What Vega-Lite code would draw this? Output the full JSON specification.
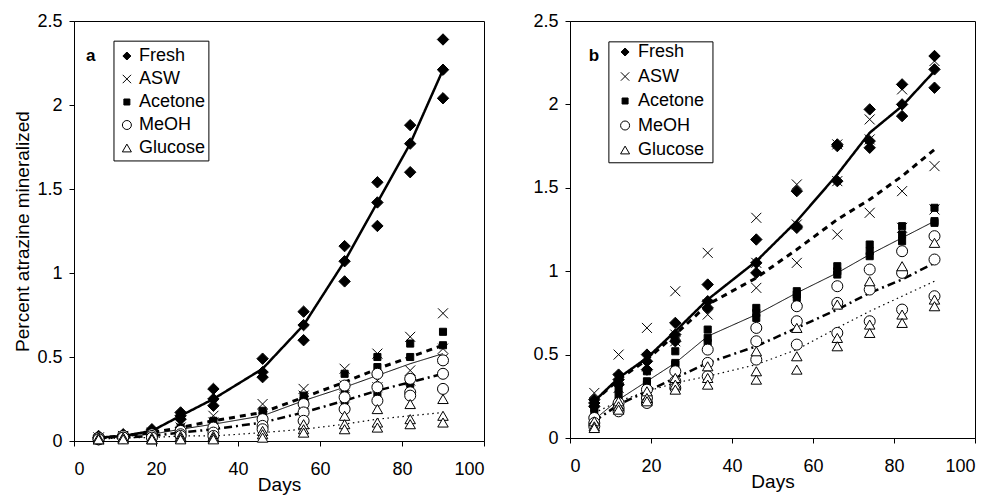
{
"$schema": "https://vega.github.io/schema/vega-lite/v6.json",
"background": "white",
"autosize": {"type": "pad"},
"padding": {"left": 13, "top": 11, "right": 2, "bottom": 2},
"spacing": 47,
"config": {
  "font": "Liberation Sans",
  "view": {"stroke": "black", "strokeWidth": 1},
  "axis": {"grid": false, "labelFontSize": 18, "labelColor": "black", "titleFontSize": 19, "titleFontWeight": "normal", "titleColor": "black", "tickColor": "black", "domainColor": "black", "tickSize": 5, "labelFont": "Liberation Sans", "titleFont": "Liberation Sans"},
  "axisX": {"labelPadding": 14, "titlePadding": -3},
  "axisY": {"labelPadding": 7, "titlePadding": 4}
},
"datasets": {
"leg": [{"trt":"Fresh"},{"trt":"ASW"},{"trt":"Acetone"},{"trt":"MeOH"},{"trt":"Glucose"}],
"pts": [
{"panel":"a","trt":"Fresh","day":6,"pct":0.03},{"panel":"a","trt":"Fresh","day":6,"pct":0.02},{"panel":"a","trt":"Fresh","day":6,"pct":0.02},
{"panel":"a","trt":"Fresh","day":12,"pct":0.04},{"panel":"a","trt":"Fresh","day":12,"pct":0.03},{"panel":"a","trt":"Fresh","day":12,"pct":0.03},
{"panel":"a","trt":"Fresh","day":19,"pct":0.07},{"panel":"a","trt":"Fresh","day":19,"pct":0.06},{"panel":"a","trt":"Fresh","day":19,"pct":0.05},
{"panel":"a","trt":"Fresh","day":26,"pct":0.17},{"panel":"a","trt":"Fresh","day":26,"pct":0.15},{"panel":"a","trt":"Fresh","day":26,"pct":0.13},
{"panel":"a","trt":"Fresh","day":34,"pct":0.31},{"panel":"a","trt":"Fresh","day":34,"pct":0.25},{"panel":"a","trt":"Fresh","day":34,"pct":0.21},
{"panel":"a","trt":"Fresh","day":46,"pct":0.49},{"panel":"a","trt":"Fresh","day":46,"pct":0.41},{"panel":"a","trt":"Fresh","day":46,"pct":0.38},
{"panel":"a","trt":"Fresh","day":56,"pct":0.77},{"panel":"a","trt":"Fresh","day":56,"pct":0.69},{"panel":"a","trt":"Fresh","day":56,"pct":0.60},
{"panel":"a","trt":"Fresh","day":66,"pct":1.16},{"panel":"a","trt":"Fresh","day":66,"pct":1.07},{"panel":"a","trt":"Fresh","day":66,"pct":0.95},
{"panel":"a","trt":"Fresh","day":74,"pct":1.54},{"panel":"a","trt":"Fresh","day":74,"pct":1.42},{"panel":"a","trt":"Fresh","day":74,"pct":1.28},
{"panel":"a","trt":"Fresh","day":82,"pct":1.88},{"panel":"a","trt":"Fresh","day":82,"pct":1.77},{"panel":"a","trt":"Fresh","day":82,"pct":1.60},
{"panel":"a","trt":"Fresh","day":90,"pct":2.39},{"panel":"a","trt":"Fresh","day":90,"pct":2.21},{"panel":"a","trt":"Fresh","day":90,"pct":2.04},
{"panel":"a","trt":"ASW","day":6,"pct":0.02},{"panel":"a","trt":"ASW","day":6,"pct":0.02},{"panel":"a","trt":"ASW","day":6,"pct":0.01},
{"panel":"a","trt":"ASW","day":12,"pct":0.03},{"panel":"a","trt":"ASW","day":12,"pct":0.03},{"panel":"a","trt":"ASW","day":12,"pct":0.02},
{"panel":"a","trt":"ASW","day":19,"pct":0.05},{"panel":"a","trt":"ASW","day":19,"pct":0.04},{"panel":"a","trt":"ASW","day":19,"pct":0.03},
{"panel":"a","trt":"ASW","day":26,"pct":0.10},{"panel":"a","trt":"ASW","day":26,"pct":0.08},{"panel":"a","trt":"ASW","day":26,"pct":0.06},
{"panel":"a","trt":"ASW","day":34,"pct":0.15},{"panel":"a","trt":"ASW","day":34,"pct":0.11},{"panel":"a","trt":"ASW","day":34,"pct":0.08},
{"panel":"a","trt":"ASW","day":46,"pct":0.22},{"panel":"a","trt":"ASW","day":46,"pct":0.16},{"panel":"a","trt":"ASW","day":46,"pct":0.12},
{"panel":"a","trt":"ASW","day":56,"pct":0.31},{"panel":"a","trt":"ASW","day":56,"pct":0.27},{"panel":"a","trt":"ASW","day":56,"pct":0.22},
{"panel":"a","trt":"ASW","day":66,"pct":0.43},{"panel":"a","trt":"ASW","day":66,"pct":0.33},{"panel":"a","trt":"ASW","day":66,"pct":0.26},
{"panel":"a","trt":"ASW","day":74,"pct":0.52},{"panel":"a","trt":"ASW","day":74,"pct":0.36},{"panel":"a","trt":"ASW","day":74,"pct":0.32},
{"panel":"a","trt":"ASW","day":82,"pct":0.62},{"panel":"a","trt":"ASW","day":82,"pct":0.42},{"panel":"a","trt":"ASW","day":82,"pct":0.36},
{"panel":"a","trt":"ASW","day":90,"pct":0.76},{"panel":"a","trt":"ASW","day":90,"pct":0.55},{"panel":"a","trt":"ASW","day":90,"pct":0.49},
{"panel":"a","trt":"Acetone","day":6,"pct":0.02},{"panel":"a","trt":"Acetone","day":6,"pct":0.02},{"panel":"a","trt":"Acetone","day":6,"pct":0.01},
{"panel":"a","trt":"Acetone","day":12,"pct":0.03},{"panel":"a","trt":"Acetone","day":12,"pct":0.02},{"panel":"a","trt":"Acetone","day":12,"pct":0.02},
{"panel":"a","trt":"Acetone","day":19,"pct":0.05},{"panel":"a","trt":"Acetone","day":19,"pct":0.04},{"panel":"a","trt":"Acetone","day":19,"pct":0.03},
{"panel":"a","trt":"Acetone","day":26,"pct":0.08},{"panel":"a","trt":"Acetone","day":26,"pct":0.06},{"panel":"a","trt":"Acetone","day":26,"pct":0.05},
{"panel":"a","trt":"Acetone","day":34,"pct":0.12},{"panel":"a","trt":"Acetone","day":34,"pct":0.09},{"panel":"a","trt":"Acetone","day":34,"pct":0.05},
{"panel":"a","trt":"Acetone","day":46,"pct":0.18},{"panel":"a","trt":"Acetone","day":46,"pct":0.15},{"panel":"a","trt":"Acetone","day":46,"pct":0.10},
{"panel":"a","trt":"Acetone","day":56,"pct":0.27},{"panel":"a","trt":"Acetone","day":56,"pct":0.24},{"panel":"a","trt":"Acetone","day":56,"pct":0.18},
{"panel":"a","trt":"Acetone","day":66,"pct":0.40},{"panel":"a","trt":"Acetone","day":66,"pct":0.29},{"panel":"a","trt":"Acetone","day":66,"pct":0.24},
{"panel":"a","trt":"Acetone","day":74,"pct":0.50},{"panel":"a","trt":"Acetone","day":74,"pct":0.44},{"panel":"a","trt":"Acetone","day":74,"pct":0.28},
{"panel":"a","trt":"Acetone","day":82,"pct":0.58},{"panel":"a","trt":"Acetone","day":82,"pct":0.50},{"panel":"a","trt":"Acetone","day":82,"pct":0.34},
{"panel":"a","trt":"Acetone","day":90,"pct":0.65},{"panel":"a","trt":"Acetone","day":90,"pct":0.57},{"panel":"a","trt":"Acetone","day":90,"pct":0.40},
{"panel":"a","trt":"MeOH","day":6,"pct":0.02},{"panel":"a","trt":"MeOH","day":6,"pct":0.01},{"panel":"a","trt":"MeOH","day":6,"pct":0.01},
{"panel":"a","trt":"MeOH","day":12,"pct":0.03},{"panel":"a","trt":"MeOH","day":12,"pct":0.02},{"panel":"a","trt":"MeOH","day":12,"pct":0.02},
{"panel":"a","trt":"MeOH","day":19,"pct":0.04},{"panel":"a","trt":"MeOH","day":19,"pct":0.03},{"panel":"a","trt":"MeOH","day":19,"pct":0.02},
{"panel":"a","trt":"MeOH","day":26,"pct":0.06},{"panel":"a","trt":"MeOH","day":26,"pct":0.04},{"panel":"a","trt":"MeOH","day":26,"pct":0.03},
{"panel":"a","trt":"MeOH","day":34,"pct":0.08},{"panel":"a","trt":"MeOH","day":34,"pct":0.05},{"panel":"a","trt":"MeOH","day":34,"pct":0.03},
{"panel":"a","trt":"MeOH","day":46,"pct":0.13},{"panel":"a","trt":"MeOH","day":46,"pct":0.09},{"panel":"a","trt":"MeOH","day":46,"pct":0.07},
{"panel":"a","trt":"MeOH","day":56,"pct":0.22},{"panel":"a","trt":"MeOH","day":56,"pct":0.17},{"panel":"a","trt":"MeOH","day":56,"pct":0.12},
{"panel":"a","trt":"MeOH","day":66,"pct":0.33},{"panel":"a","trt":"MeOH","day":66,"pct":0.26},{"panel":"a","trt":"MeOH","day":66,"pct":0.19},
{"panel":"a","trt":"MeOH","day":74,"pct":0.40},{"panel":"a","trt":"MeOH","day":74,"pct":0.32},{"panel":"a","trt":"MeOH","day":74,"pct":0.24},
{"panel":"a","trt":"MeOH","day":82,"pct":0.37},{"panel":"a","trt":"MeOH","day":82,"pct":0.29},{"panel":"a","trt":"MeOH","day":82,"pct":0.27},
{"panel":"a","trt":"MeOH","day":90,"pct":0.48},{"panel":"a","trt":"MeOH","day":90,"pct":0.40},{"panel":"a","trt":"MeOH","day":90,"pct":0.31},
{"panel":"a","trt":"Glucose","day":6,"pct":0.02},{"panel":"a","trt":"Glucose","day":6,"pct":0.01},{"panel":"a","trt":"Glucose","day":6,"pct":0.01},
{"panel":"a","trt":"Glucose","day":12,"pct":0.02},{"panel":"a","trt":"Glucose","day":12,"pct":0.02},{"panel":"a","trt":"Glucose","day":12,"pct":0.01},
{"panel":"a","trt":"Glucose","day":19,"pct":0.02},{"panel":"a","trt":"Glucose","day":19,"pct":0.01},{"panel":"a","trt":"Glucose","day":19,"pct":0.01},
{"panel":"a","trt":"Glucose","day":26,"pct":0.03},{"panel":"a","trt":"Glucose","day":26,"pct":0.02},{"panel":"a","trt":"Glucose","day":26,"pct":0.01},
{"panel":"a","trt":"Glucose","day":34,"pct":0.03},{"panel":"a","trt":"Glucose","day":34,"pct":0.02},{"panel":"a","trt":"Glucose","day":34,"pct":0.01},
{"panel":"a","trt":"Glucose","day":46,"pct":0.06},{"panel":"a","trt":"Glucose","day":46,"pct":0.04},{"panel":"a","trt":"Glucose","day":46,"pct":0.02},
{"panel":"a","trt":"Glucose","day":56,"pct":0.10},{"panel":"a","trt":"Glucose","day":56,"pct":0.07},{"panel":"a","trt":"Glucose","day":56,"pct":0.05},
{"panel":"a","trt":"Glucose","day":66,"pct":0.15},{"panel":"a","trt":"Glucose","day":66,"pct":0.10},{"panel":"a","trt":"Glucose","day":66,"pct":0.07},
{"panel":"a","trt":"Glucose","day":74,"pct":0.19},{"panel":"a","trt":"Glucose","day":74,"pct":0.11},{"panel":"a","trt":"Glucose","day":74,"pct":0.08},
{"panel":"a","trt":"Glucose","day":82,"pct":0.22},{"panel":"a","trt":"Glucose","day":82,"pct":0.13},{"panel":"a","trt":"Glucose","day":82,"pct":0.10},
{"panel":"a","trt":"Glucose","day":90,"pct":0.25},{"panel":"a","trt":"Glucose","day":90,"pct":0.15},{"panel":"a","trt":"Glucose","day":90,"pct":0.11},
{"panel":"b","trt":"Fresh","day":6,"pct":0.23},{"panel":"b","trt":"Fresh","day":6,"pct":0.21},{"panel":"b","trt":"Fresh","day":6,"pct":0.19},
{"panel":"b","trt":"Fresh","day":12,"pct":0.38},{"panel":"b","trt":"Fresh","day":12,"pct":0.35},{"panel":"b","trt":"Fresh","day":12,"pct":0.32},
{"panel":"b","trt":"Fresh","day":19,"pct":0.50},{"panel":"b","trt":"Fresh","day":19,"pct":0.46},{"panel":"b","trt":"Fresh","day":19,"pct":0.41},
{"panel":"b","trt":"Fresh","day":26,"pct":0.69},{"panel":"b","trt":"Fresh","day":26,"pct":0.62},{"panel":"b","trt":"Fresh","day":26,"pct":0.58},
{"panel":"b","trt":"Fresh","day":34,"pct":0.92},{"panel":"b","trt":"Fresh","day":34,"pct":0.82},{"panel":"b","trt":"Fresh","day":34,"pct":0.78},
{"panel":"b","trt":"Fresh","day":46,"pct":1.19},{"panel":"b","trt":"Fresh","day":46,"pct":1.05},{"panel":"b","trt":"Fresh","day":46,"pct":0.99},
{"panel":"b","trt":"Fresh","day":56,"pct":1.48},{"panel":"b","trt":"Fresh","day":56,"pct":1.27},{"panel":"b","trt":"Fresh","day":56,"pct":1.26},
{"panel":"b","trt":"Fresh","day":66,"pct":1.76},{"panel":"b","trt":"Fresh","day":66,"pct":1.75},{"panel":"b","trt":"Fresh","day":66,"pct":1.54},
{"panel":"b","trt":"Fresh","day":74,"pct":1.97},{"panel":"b","trt":"Fresh","day":74,"pct":1.78},{"panel":"b","trt":"Fresh","day":74,"pct":1.74},
{"panel":"b","trt":"Fresh","day":82,"pct":2.12},{"panel":"b","trt":"Fresh","day":82,"pct":2.00},{"panel":"b","trt":"Fresh","day":82,"pct":1.93},
{"panel":"b","trt":"Fresh","day":90,"pct":2.29},{"panel":"b","trt":"Fresh","day":90,"pct":2.21},{"panel":"b","trt":"Fresh","day":90,"pct":2.10},
{"panel":"b","trt":"ASW","day":6,"pct":0.27},{"panel":"b","trt":"ASW","day":6,"pct":0.21},{"panel":"b","trt":"ASW","day":6,"pct":0.16},
{"panel":"b","trt":"ASW","day":12,"pct":0.50},{"panel":"b","trt":"ASW","day":12,"pct":0.36},{"panel":"b","trt":"ASW","day":12,"pct":0.30},
{"panel":"b","trt":"ASW","day":19,"pct":0.66},{"panel":"b","trt":"ASW","day":19,"pct":0.48},{"panel":"b","trt":"ASW","day":19,"pct":0.43},
{"panel":"b","trt":"ASW","day":26,"pct":0.88},{"panel":"b","trt":"ASW","day":26,"pct":0.62},{"panel":"b","trt":"ASW","day":26,"pct":0.58},
{"panel":"b","trt":"ASW","day":34,"pct":1.11},{"panel":"b","trt":"ASW","day":34,"pct":0.80},{"panel":"b","trt":"ASW","day":34,"pct":0.74},
{"panel":"b","trt":"ASW","day":46,"pct":1.32},{"panel":"b","trt":"ASW","day":46,"pct":1.05},{"panel":"b","trt":"ASW","day":46,"pct":0.90},
{"panel":"b","trt":"ASW","day":56,"pct":1.52},{"panel":"b","trt":"ASW","day":56,"pct":1.28},{"panel":"b","trt":"ASW","day":56,"pct":1.05},
{"panel":"b","trt":"ASW","day":66,"pct":1.76},{"panel":"b","trt":"ASW","day":66,"pct":1.54},{"panel":"b","trt":"ASW","day":66,"pct":1.22},
{"panel":"b","trt":"ASW","day":74,"pct":1.91},{"panel":"b","trt":"ASW","day":74,"pct":1.79},{"panel":"b","trt":"ASW","day":74,"pct":1.35},
{"panel":"b","trt":"ASW","day":82,"pct":2.09},{"panel":"b","trt":"ASW","day":82,"pct":1.48},{"panel":"b","trt":"ASW","day":82,"pct":1.26},
{"panel":"b","trt":"ASW","day":90,"pct":2.26},{"panel":"b","trt":"ASW","day":90,"pct":1.63},{"panel":"b","trt":"ASW","day":90,"pct":1.37},
{"panel":"b","trt":"Acetone","day":6,"pct":0.20},{"panel":"b","trt":"Acetone","day":6,"pct":0.18},{"panel":"b","trt":"Acetone","day":6,"pct":0.15},
{"panel":"b","trt":"Acetone","day":12,"pct":0.30},{"panel":"b","trt":"Acetone","day":12,"pct":0.26},{"panel":"b","trt":"Acetone","day":12,"pct":0.22},
{"panel":"b","trt":"Acetone","day":19,"pct":0.40},{"panel":"b","trt":"Acetone","day":19,"pct":0.34},{"panel":"b","trt":"Acetone","day":19,"pct":0.32},
{"panel":"b","trt":"Acetone","day":26,"pct":0.52},{"panel":"b","trt":"Acetone","day":26,"pct":0.45},{"panel":"b","trt":"Acetone","day":26,"pct":0.44},
{"panel":"b","trt":"Acetone","day":34,"pct":0.65},{"panel":"b","trt":"Acetone","day":34,"pct":0.60},{"panel":"b","trt":"Acetone","day":34,"pct":0.57},
{"panel":"b","trt":"Acetone","day":46,"pct":0.78},{"panel":"b","trt":"Acetone","day":46,"pct":0.75},{"panel":"b","trt":"Acetone","day":46,"pct":0.72},
{"panel":"b","trt":"Acetone","day":56,"pct":0.88},{"panel":"b","trt":"Acetone","day":56,"pct":0.86},{"panel":"b","trt":"Acetone","day":56,"pct":0.84},
{"panel":"b","trt":"Acetone","day":66,"pct":1.03},{"panel":"b","trt":"Acetone","day":66,"pct":1.00},{"panel":"b","trt":"Acetone","day":66,"pct":0.98},
{"panel":"b","trt":"Acetone","day":74,"pct":1.16},{"panel":"b","trt":"Acetone","day":74,"pct":1.12},{"panel":"b","trt":"Acetone","day":74,"pct":1.09},
{"panel":"b","trt":"Acetone","day":82,"pct":1.27},{"panel":"b","trt":"Acetone","day":82,"pct":1.22},{"panel":"b","trt":"Acetone","day":82,"pct":1.18},
{"panel":"b","trt":"Acetone","day":90,"pct":1.38},{"panel":"b","trt":"Acetone","day":90,"pct":1.30},{"panel":"b","trt":"Acetone","day":90,"pct":1.29},
{"panel":"b","trt":"MeOH","day":6,"pct":0.12},{"panel":"b","trt":"MeOH","day":6,"pct":0.09},{"panel":"b","trt":"MeOH","day":6,"pct":0.07},
{"panel":"b","trt":"MeOH","day":12,"pct":0.21},{"panel":"b","trt":"MeOH","day":12,"pct":0.18},{"panel":"b","trt":"MeOH","day":12,"pct":0.16},
{"panel":"b","trt":"MeOH","day":19,"pct":0.29},{"panel":"b","trt":"MeOH","day":19,"pct":0.24},{"panel":"b","trt":"MeOH","day":19,"pct":0.21},
{"panel":"b","trt":"MeOH","day":26,"pct":0.40},{"panel":"b","trt":"MeOH","day":26,"pct":0.34},{"panel":"b","trt":"MeOH","day":26,"pct":0.30},
{"panel":"b","trt":"MeOH","day":34,"pct":0.53},{"panel":"b","trt":"MeOH","day":34,"pct":0.45},{"panel":"b","trt":"MeOH","day":34,"pct":0.37},
{"panel":"b","trt":"MeOH","day":46,"pct":0.66},{"panel":"b","trt":"MeOH","day":46,"pct":0.58},{"panel":"b","trt":"MeOH","day":46,"pct":0.47},
{"panel":"b","trt":"MeOH","day":56,"pct":0.79},{"panel":"b","trt":"MeOH","day":56,"pct":0.70},{"panel":"b","trt":"MeOH","day":56,"pct":0.56},
{"panel":"b","trt":"MeOH","day":66,"pct":0.91},{"panel":"b","trt":"MeOH","day":66,"pct":0.81},{"panel":"b","trt":"MeOH","day":66,"pct":0.63},
{"panel":"b","trt":"MeOH","day":74,"pct":1.01},{"panel":"b","trt":"MeOH","day":74,"pct":0.89},{"panel":"b","trt":"MeOH","day":74,"pct":0.70},
{"panel":"b","trt":"MeOH","day":82,"pct":1.12},{"panel":"b","trt":"MeOH","day":82,"pct":0.99},{"panel":"b","trt":"MeOH","day":82,"pct":0.77},
{"panel":"b","trt":"MeOH","day":90,"pct":1.21},{"panel":"b","trt":"MeOH","day":90,"pct":1.07},{"panel":"b","trt":"MeOH","day":90,"pct":0.85},
{"panel":"b","trt":"Glucose","day":6,"pct":0.10},{"panel":"b","trt":"Glucose","day":6,"pct":0.07},{"panel":"b","trt":"Glucose","day":6,"pct":0.06},
{"panel":"b","trt":"Glucose","day":12,"pct":0.22},{"panel":"b","trt":"Glucose","day":12,"pct":0.19},{"panel":"b","trt":"Glucose","day":12,"pct":0.17},
{"panel":"b","trt":"Glucose","day":19,"pct":0.28},{"panel":"b","trt":"Glucose","day":19,"pct":0.24},{"panel":"b","trt":"Glucose","day":19,"pct":0.22},
{"panel":"b","trt":"Glucose","day":26,"pct":0.36},{"panel":"b","trt":"Glucose","day":26,"pct":0.32},{"panel":"b","trt":"Glucose","day":26,"pct":0.29},
{"panel":"b","trt":"Glucose","day":34,"pct":0.43},{"panel":"b","trt":"Glucose","day":34,"pct":0.36},{"panel":"b","trt":"Glucose","day":34,"pct":0.32},
{"panel":"b","trt":"Glucose","day":46,"pct":0.52},{"panel":"b","trt":"Glucose","day":46,"pct":0.40},{"panel":"b","trt":"Glucose","day":46,"pct":0.35},
{"panel":"b","trt":"Glucose","day":56,"pct":0.66},{"panel":"b","trt":"Glucose","day":56,"pct":0.49},{"panel":"b","trt":"Glucose","day":56,"pct":0.41},
{"panel":"b","trt":"Glucose","day":66,"pct":0.80},{"panel":"b","trt":"Glucose","day":66,"pct":0.60},{"panel":"b","trt":"Glucose","day":66,"pct":0.55},
{"panel":"b","trt":"Glucose","day":74,"pct":0.94},{"panel":"b","trt":"Glucose","day":74,"pct":0.68},{"panel":"b","trt":"Glucose","day":74,"pct":0.63},
{"panel":"b","trt":"Glucose","day":82,"pct":1.03},{"panel":"b","trt":"Glucose","day":82,"pct":0.74},{"panel":"b","trt":"Glucose","day":82,"pct":0.69},
{"panel":"b","trt":"Glucose","day":90,"pct":1.17},{"panel":"b","trt":"Glucose","day":90,"pct":0.83},{"panel":"b","trt":"Glucose","day":90,"pct":0.79}
],
"lns": [
{"panel":"a","trt":"Fresh","day":6,"pct":0.02},{"panel":"a","trt":"Fresh","day":12,"pct":0.03},{"panel":"a","trt":"Fresh","day":19,"pct":0.06},{"panel":"a","trt":"Fresh","day":26,"pct":0.15},{"panel":"a","trt":"Fresh","day":34,"pct":0.25},{"panel":"a","trt":"Fresh","day":46,"pct":0.43},{"panel":"a","trt":"Fresh","day":56,"pct":0.69},{"panel":"a","trt":"Fresh","day":66,"pct":1.07},{"panel":"a","trt":"Fresh","day":74,"pct":1.42},{"panel":"a","trt":"Fresh","day":82,"pct":1.77},{"panel":"a","trt":"Fresh","day":90,"pct":2.21},
{"panel":"a","trt":"ASW","day":6,"pct":0.02},{"panel":"a","trt":"ASW","day":12,"pct":0.03},{"panel":"a","trt":"ASW","day":19,"pct":0.05},{"panel":"a","trt":"ASW","day":26,"pct":0.08},{"panel":"a","trt":"ASW","day":34,"pct":0.12},{"panel":"a","trt":"ASW","day":46,"pct":0.17},{"panel":"a","trt":"ASW","day":56,"pct":0.26},{"panel":"a","trt":"ASW","day":66,"pct":0.35},{"panel":"a","trt":"ASW","day":74,"pct":0.43},{"panel":"a","trt":"ASW","day":82,"pct":0.50},{"panel":"a","trt":"ASW","day":90,"pct":0.57},
{"panel":"a","trt":"Acetone","day":6,"pct":0.02},{"panel":"a","trt":"Acetone","day":12,"pct":0.03},{"panel":"a","trt":"Acetone","day":19,"pct":0.04},{"panel":"a","trt":"Acetone","day":26,"pct":0.07},{"panel":"a","trt":"Acetone","day":34,"pct":0.10},{"panel":"a","trt":"Acetone","day":46,"pct":0.15},{"panel":"a","trt":"Acetone","day":56,"pct":0.24},{"panel":"a","trt":"Acetone","day":66,"pct":0.32},{"panel":"a","trt":"Acetone","day":74,"pct":0.39},{"panel":"a","trt":"Acetone","day":82,"pct":0.46},{"panel":"a","trt":"Acetone","day":90,"pct":0.52},
{"panel":"a","trt":"MeOH","day":6,"pct":0.02},{"panel":"a","trt":"MeOH","day":12,"pct":0.02},{"panel":"a","trt":"MeOH","day":19,"pct":0.03},{"panel":"a","trt":"MeOH","day":26,"pct":0.05},{"panel":"a","trt":"MeOH","day":34,"pct":0.07},{"panel":"a","trt":"MeOH","day":46,"pct":0.11},{"panel":"a","trt":"MeOH","day":56,"pct":0.17},{"panel":"a","trt":"MeOH","day":66,"pct":0.24},{"panel":"a","trt":"MeOH","day":74,"pct":0.30},{"panel":"a","trt":"MeOH","day":82,"pct":0.35},{"panel":"a","trt":"MeOH","day":90,"pct":0.40},
{"panel":"a","trt":"Glucose","day":6,"pct":0.01},{"panel":"a","trt":"Glucose","day":12,"pct":0.02},{"panel":"a","trt":"Glucose","day":19,"pct":0.02},{"panel":"a","trt":"Glucose","day":26,"pct":0.03},{"panel":"a","trt":"Glucose","day":34,"pct":0.03},{"panel":"a","trt":"Glucose","day":46,"pct":0.05},{"panel":"a","trt":"Glucose","day":56,"pct":0.07},{"panel":"a","trt":"Glucose","day":66,"pct":0.10},{"panel":"a","trt":"Glucose","day":74,"pct":0.13},{"panel":"a","trt":"Glucose","day":82,"pct":0.15},{"panel":"a","trt":"Glucose","day":90,"pct":0.17},
{"panel":"b","trt":"Fresh","day":6,"pct":0.22},{"panel":"b","trt":"Fresh","day":12,"pct":0.36},{"panel":"b","trt":"Fresh","day":19,"pct":0.48},{"panel":"b","trt":"Fresh","day":26,"pct":0.64},{"panel":"b","trt":"Fresh","day":34,"pct":0.83},{"panel":"b","trt":"Fresh","day":46,"pct":1.06},{"panel":"b","trt":"Fresh","day":56,"pct":1.30},{"panel":"b","trt":"Fresh","day":66,"pct":1.58},{"panel":"b","trt":"Fresh","day":74,"pct":1.83},{"panel":"b","trt":"Fresh","day":82,"pct":1.99},{"panel":"b","trt":"Fresh","day":90,"pct":2.20},
{"panel":"b","trt":"ASW","day":6,"pct":0.22},{"panel":"b","trt":"ASW","day":12,"pct":0.35},{"panel":"b","trt":"ASW","day":19,"pct":0.47},{"panel":"b","trt":"ASW","day":26,"pct":0.62},{"panel":"b","trt":"ASW","day":34,"pct":0.80},{"panel":"b","trt":"ASW","day":46,"pct":0.96},{"panel":"b","trt":"ASW","day":56,"pct":1.13},{"panel":"b","trt":"ASW","day":66,"pct":1.31},{"panel":"b","trt":"ASW","day":74,"pct":1.43},{"panel":"b","trt":"ASW","day":82,"pct":1.57},{"panel":"b","trt":"ASW","day":90,"pct":1.73},
{"panel":"b","trt":"Acetone","day":6,"pct":0.11},{"panel":"b","trt":"Acetone","day":12,"pct":0.23},{"panel":"b","trt":"Acetone","day":19,"pct":0.34},{"panel":"b","trt":"Acetone","day":26,"pct":0.45},{"panel":"b","trt":"Acetone","day":34,"pct":0.61},{"panel":"b","trt":"Acetone","day":46,"pct":0.74},{"panel":"b","trt":"Acetone","day":56,"pct":0.87},{"panel":"b","trt":"Acetone","day":66,"pct":0.99},{"panel":"b","trt":"Acetone","day":74,"pct":1.10},{"panel":"b","trt":"Acetone","day":82,"pct":1.20},{"panel":"b","trt":"Acetone","day":90,"pct":1.30},
{"panel":"b","trt":"MeOH","day":6,"pct":0.10},{"panel":"b","trt":"MeOH","day":12,"pct":0.20},{"panel":"b","trt":"MeOH","day":19,"pct":0.28},{"panel":"b","trt":"MeOH","day":26,"pct":0.36},{"panel":"b","trt":"MeOH","day":34,"pct":0.45},{"panel":"b","trt":"MeOH","day":46,"pct":0.55},{"panel":"b","trt":"MeOH","day":56,"pct":0.66},{"panel":"b","trt":"MeOH","day":66,"pct":0.77},{"panel":"b","trt":"MeOH","day":74,"pct":0.87},{"panel":"b","trt":"MeOH","day":82,"pct":0.95},{"panel":"b","trt":"MeOH","day":90,"pct":1.05},
{"panel":"b","trt":"Glucose","day":6,"pct":0.15},{"panel":"b","trt":"Glucose","day":12,"pct":0.22},{"panel":"b","trt":"Glucose","day":19,"pct":0.28},{"panel":"b","trt":"Glucose","day":26,"pct":0.33},{"panel":"b","trt":"Glucose","day":34,"pct":0.37},{"panel":"b","trt":"Glucose","day":46,"pct":0.44},{"panel":"b","trt":"Glucose","day":56,"pct":0.53},{"panel":"b","trt":"Glucose","day":66,"pct":0.66},{"panel":"b","trt":"Glucose","day":74,"pct":0.76},{"panel":"b","trt":"Glucose","day":82,"pct":0.85},{"panel":"b","trt":"Glucose","day":90,"pct":0.94}
]
},
"hconcat": [
{
  "width": 410, "height": 420,
  "layer": [
    {
      "layer": [
        {
          "data": {"name": "lns"},
          "transform": [{"filter": "datum.panel == 'a'"}],
          "mark": {"type": "line", "color": "black"},
          "encoding": {
            "x": {"field": "day", "type": "quantitative", "scale": {"domain": [0, 100], "nice": false}, "axis": {"values": [0, 20, 40, 60, 80, 100], "title": "Days"}},
            "y": {"field": "pct", "type": "quantitative", "scale": {"domain": [0, 2.5], "nice": false}, "axis": {"values": [0, 0.5, 1, 1.5, 2, 2.5], "format": "~g", "title": "Percent atrazine mineralized"}},
            "detail": {"field": "trt"},
            "strokeDash": {"field": "trt", "type": "nominal", "scale": {"domain": ["Fresh", "ASW", "Acetone", "MeOH", "Glucose"], "range": [[1, 0], [6, 5], [1, 0], [8, 4, 2, 4], [1.5, 3.5]]}, "legend": null},
            "strokeWidth": {"field": "trt", "type": "ordinal", "scale": {"type": "ordinal", "domain": ["Fresh", "ASW", "Acetone", "MeOH", "Glucose"], "range": [2.5, 3, 1, 2.5, 1.2]}, "legend": null}
          }
        },
        {
          "data": {"name": "pts"},
          "transform": [{"filter": "datum.panel == 'a'"}],
          "mark": {"type": "point", "opacity": 1, "stroke": "black", "strokeWidth": 1},
          "encoding": {
            "x": {"field": "day", "type": "quantitative"},
            "y": {"field": "pct", "type": "quantitative"},
            "shape": {"field": "trt", "type": "nominal", "scale": {"domain": ["Fresh", "ASW", "Acetone", "MeOH", "Glucose"], "range": ["diamond", "M-1,-1L1,1M-1,1L1,-1", "square", "circle", "triangle-up"]}, "legend": null},
            "fill": {"field": "trt", "type": "nominal", "scale": {"domain": ["Fresh", "ASW", "Acetone", "MeOH", "Glucose"], "range": ["black", "transparent", "black", "white", "white"]}, "legend": null},
            "size": {"field": "trt", "type": "ordinal", "scale": {"type": "ordinal", "domain": ["Fresh", "ASW", "Acetone", "MeOH", "Glucose"], "range": [130, 100, 50, 121, 110]}, "legend": null}
          }
        },
        {
          "data": {"values": [{}]},
          "mark": {"type": "rect", "fill": "white", "stroke": "black", "strokeWidth": 1},
          "encoding": {"x": {"datum": 9.75}, "x2": {"datum": 32.9}, "y": {"datum": 2.38}, "y2": {"datum": 1.667}}
        },
        {
          "data": {"values": [{}]},
          "mark": {"type": "text", "fontSize": 17, "fontWeight": "bold", "font": "Liberation Sans", "color": "black"},
          "encoding": {"x": {"datum": 4.1}, "y": {"datum": 2.29}, "text": {"value": "a"}}
        }
      ]
    },
    {
      "data": {"name": "leg"},
      "layer": [
        {
          "mark": {"type": "point", "opacity": 1, "stroke": "black", "strokeWidth": 1},
          "encoding": {
            "x": {"datum": 12.9},
            "y": {"field": "trt", "type": "nominal", "scale": {"type": "point", "domain": ["Fresh", "ASW", "Acetone", "MeOH", "Glucose"], "range": [35, 127], "padding": 0}, "axis": null},
            "shape": {"field": "trt", "type": "nominal", "scale": {"domain": ["Fresh", "ASW", "Acetone", "MeOH", "Glucose"], "range": ["diamond", "M-1,-1L1,1M-1,1L1,-1", "square", "circle", "triangle-up"]}, "legend": null},
            "fill": {"field": "trt", "type": "nominal", "scale": {"domain": ["Fresh", "ASW", "Acetone", "MeOH", "Glucose"], "range": ["black", "transparent", "black", "white", "white"]}, "legend": null},
            "size": {"field": "trt", "type": "ordinal", "scale": {"type": "ordinal", "domain": ["Fresh", "ASW", "Acetone", "MeOH", "Glucose"], "range": [64, 70, 36, 81, 81]}, "legend": null}
          }
        },
        {
          "mark": {"type": "text", "align": "left", "baseline": "middle", "dx": 12, "fontSize": 18, "font": "Liberation Sans", "color": "black"},
          "encoding": {
            "x": {"datum": 12.9},
            "y": {"field": "trt", "type": "nominal", "scale": {"type": "point", "domain": ["Fresh", "ASW", "Acetone", "MeOH", "Glucose"], "range": [35, 127], "padding": 0}, "axis": null},
            "text": {"field": "trt"}
          }
        }
      ]
    }
  ],
  "resolve": {"scale": {"y": "independent", "size": "independent"}}
},
{
  "width": 405, "height": 417,
  "layer": [
    {
      "layer": [
        {
          "data": {"name": "lns"},
          "transform": [{"filter": "datum.panel == 'b'"}],
          "mark": {"type": "line", "color": "black"},
          "encoding": {
            "x": {"field": "day", "type": "quantitative", "scale": {"domain": [0, 100], "nice": false}, "axis": {"values": [0, 20, 40, 60, 80, 100], "title": "Days"}},
            "y": {"field": "pct", "type": "quantitative", "scale": {"domain": [0, 2.5], "nice": false}, "axis": {"values": [0, 0.5, 1, 1.5, 2, 2.5], "format": "~g", "title": null}},
            "detail": {"field": "trt"},
            "strokeDash": {"field": "trt", "type": "nominal", "scale": {"domain": ["Fresh", "ASW", "Acetone", "MeOH", "Glucose"], "range": [[1, 0], [6, 5], [1, 0], [8, 4, 2, 4], [1.5, 3.5]]}, "legend": null},
            "strokeWidth": {"field": "trt", "type": "ordinal", "scale": {"type": "ordinal", "domain": ["Fresh", "ASW", "Acetone", "MeOH", "Glucose"], "range": [2.5, 3, 1, 2.5, 1.2]}, "legend": null}
          }
        },
        {
          "data": {"name": "pts"},
          "transform": [{"filter": "datum.panel == 'b'"}],
          "mark": {"type": "point", "opacity": 1, "stroke": "black", "strokeWidth": 1},
          "encoding": {
            "x": {"field": "day", "type": "quantitative"},
            "y": {"field": "pct", "type": "quantitative"},
            "shape": {"field": "trt", "type": "nominal", "scale": {"domain": ["Fresh", "ASW", "Acetone", "MeOH", "Glucose"], "range": ["diamond", "M-1,-1L1,1M-1,1L1,-1", "square", "circle", "triangle-up"]}, "legend": null},
            "fill": {"field": "trt", "type": "nominal", "scale": {"domain": ["Fresh", "ASW", "Acetone", "MeOH", "Glucose"], "range": ["black", "transparent", "black", "white", "white"]}, "legend": null},
            "size": {"field": "trt", "type": "ordinal", "scale": {"type": "ordinal", "domain": ["Fresh", "ASW", "Acetone", "MeOH", "Glucose"], "range": [130, 100, 50, 121, 110]}, "legend": null}
          }
        },
        {
          "data": {"values": [{}]},
          "mark": {"type": "rect", "fill": "white", "stroke": "black", "strokeWidth": 1},
          "encoding": {"x": {"datum": 9.6}, "x2": {"datum": 35.3}, "y": {"datum": 2.375}, "y2": {"datum": 1.65}}
        },
        {
          "data": {"values": [{}]},
          "mark": {"type": "text", "fontSize": 17, "fontWeight": "bold", "font": "Liberation Sans", "color": "black"},
          "encoding": {"x": {"datum": 5.9}, "y": {"datum": 2.29}, "text": {"value": "b"}}
        }
      ]
    },
    {
      "data": {"name": "leg"},
      "layer": [
        {
          "mark": {"type": "point", "opacity": 1, "stroke": "black", "strokeWidth": 1},
          "encoding": {
            "x": {"datum": 13.6},
            "y": {"field": "trt", "type": "nominal", "scale": {"type": "point", "domain": ["Fresh", "ASW", "Acetone", "MeOH", "Glucose"], "range": [31, 129], "padding": 0}, "axis": null},
            "shape": {"field": "trt", "type": "nominal", "scale": {"domain": ["Fresh", "ASW", "Acetone", "MeOH", "Glucose"], "range": ["diamond", "M-1,-1L1,1M-1,1L1,-1", "square", "circle", "triangle-up"]}, "legend": null},
            "fill": {"field": "trt", "type": "nominal", "scale": {"domain": ["Fresh", "ASW", "Acetone", "MeOH", "Glucose"], "range": ["black", "transparent", "black", "white", "white"]}, "legend": null},
            "size": {"field": "trt", "type": "ordinal", "scale": {"type": "ordinal", "domain": ["Fresh", "ASW", "Acetone", "MeOH", "Glucose"], "range": [64, 70, 36, 81, 81]}, "legend": null}
          }
        },
        {
          "mark": {"type": "text", "align": "left", "baseline": "middle", "dx": 13, "fontSize": 18, "font": "Liberation Sans", "color": "black"},
          "encoding": {
            "x": {"datum": 13.6},
            "y": {"field": "trt", "type": "nominal", "scale": {"type": "point", "domain": ["Fresh", "ASW", "Acetone", "MeOH", "Glucose"], "range": [31, 129], "padding": 0}, "axis": null},
            "text": {"field": "trt"}
          }
        }
      ]
    }
  ],
  "resolve": {"scale": {"y": "independent", "size": "independent"}}
}
],
"resolve": {"scale": {"size": "independent", "y": "independent"}}
}
